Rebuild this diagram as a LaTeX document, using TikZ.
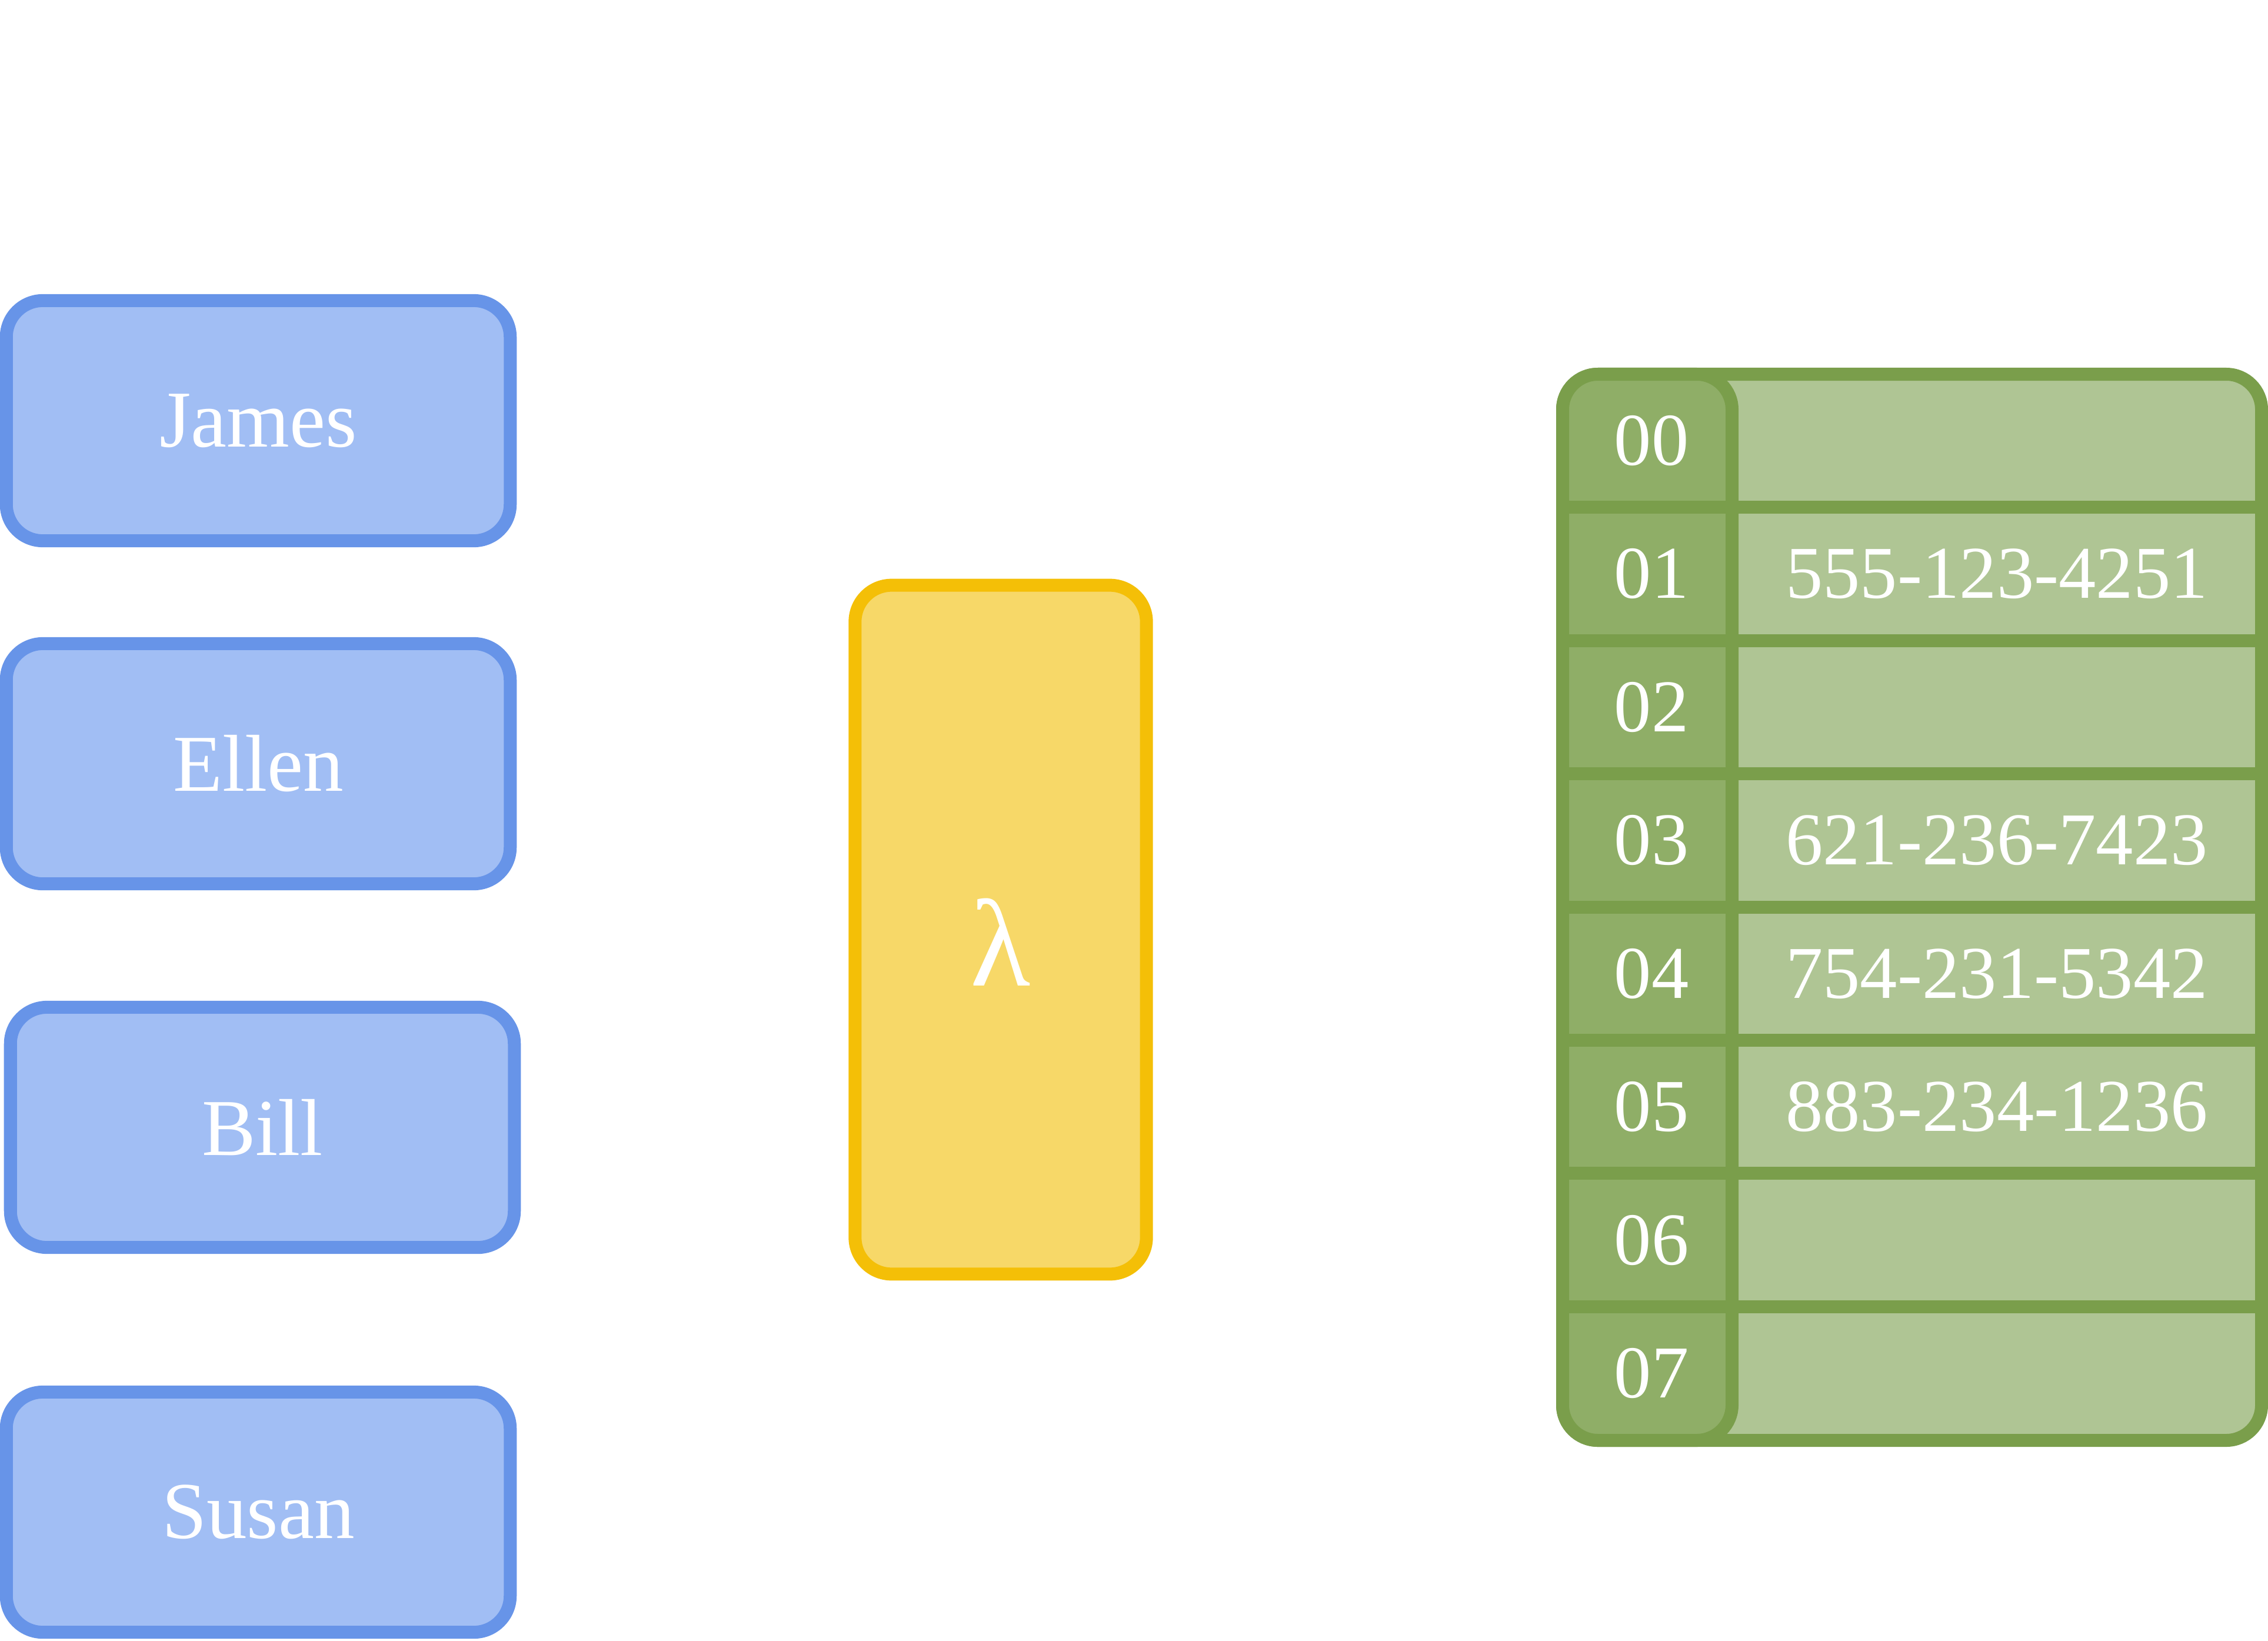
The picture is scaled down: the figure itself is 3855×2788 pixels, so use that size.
\documentclass[tikz,border=0pt]{standalone}
\usepackage{fontspec}
\setmainfont{Liberation Serif}
\usepackage{tikz}
\definecolor{nameline}{HTML}{6794E8}
\definecolor{namefill}{HTML}{A1BEF4}
\definecolor{hashline}{HTML}{F4BF07}
\definecolor{hashfill}{HTML}{F7D868}
\definecolor{tabline}{HTML}{7A9E4B}
\definecolor{keyfill}{HTML}{8FAE67}
\definecolor{valfill}{HTML}{AFC594}

\begin{document}
\begin{tikzpicture}[x=0.01cm,y=-0.01cm]

\tikzset{person/.style = {rectangle, rounded corners=0.62cm, draw=nameline, fill=namefill,
  line width=0.22cm, minimum width=8.56cm, minimum height=4.08cm,
  text=white, font=\fontsize{39}{47}\selectfont}}
\tikzset{hashbox/.style = {rectangle, rounded corners=0.62cm, draw=hashline, fill=hashfill,
  line width=0.22cm, minimum width=4.95cm, minimum height=11.7cm, text height=1.9cm,
  text=white, font=\fontsize{60}{72}\selectfont}}
\tikzset{rowline/.style = {draw=tabline, line width=0.22cm}}
\tikzset{cell/.style = {text=white, font=\fontsize{36}{43}\selectfont}}
%\draw[help lines] (0,0) grid (3855,2788);
\useasboundingbox (0,0) rectangle (3855,2788);

\node[person] (james) at (439,715) {James};
\node[person] (ellen) at (439,1298) {Ellen};
\node[person] (bill) at (446,1916) {Bill};
\node[person] (susan) at (439,2570) {Susan};

\node[hashbox] (hash) at (1701,1580) {λ};

% the table
\draw[rowline, fill=valfill, rounded corners=0.6cm] (2656,636) rectangle (3844,2448);
\draw[rowline, fill=keyfill, rounded corners=0.6cm] (2656,636) rectangle (2944,2448);
\draw[rowline] (2656,862) -- (3844,862);
\draw[rowline] (2656,1089) -- (3844,1089);
\draw[rowline] (2656,1315) -- (3844,1315);
\draw[rowline] (2656,1542) -- (3844,1542);
\draw[rowline] (2656,1768) -- (3844,1768);
\draw[rowline] (2656,1994) -- (3844,1994);
\draw[rowline] (2656,2221) -- (3844,2221);

\node[cell] (k0) at (2807,749) {00};
\node[cell] (k1) at (2807,975) {01};
\node[cell] (k2) at (2807,1202) {02};
\node[cell] (k3) at (2807,1428) {03};
\node[cell] (k4) at (2807,1655) {04};
\node[cell] (k5) at (2807,1881) {05};
\node[cell] (k6) at (2807,2108) {06};
\node[cell] (k7) at (2807,2334) {07};

\node[cell] (v1) at (3394,975) {555-123-4251};
\node[cell] (v3) at (3394,1428) {621-236-7423};
\node[cell] (v4) at (3394,1655) {754-231-5342};
\node[cell] (v5) at (3394,1881) {883-234-1236};
\end{tikzpicture}
\end{document}
